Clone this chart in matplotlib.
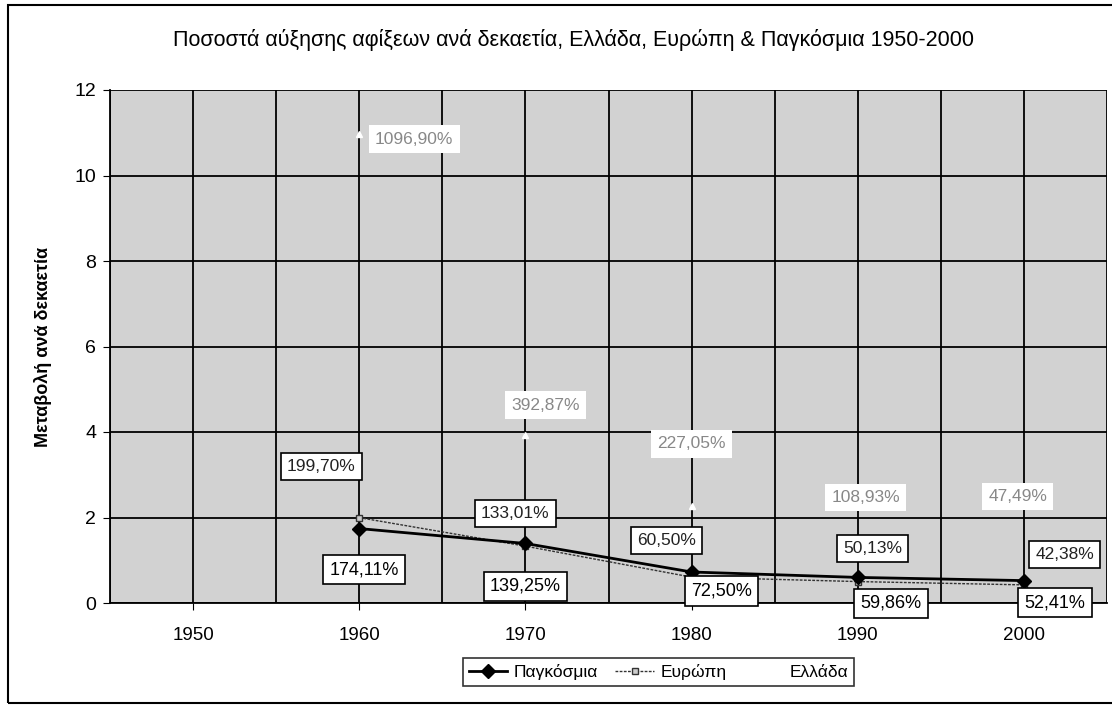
import matplotlib
matplotlib.use("Agg")
from matplotlib import pyplot as plt
from matplotlib.patches import Rectangle

plt.rcParams['font.family'] = ['Liberation Sans', 'DejaVu Sans']

# data
years = [1960, 1970, 1980, 1990, 2000]
world = [1.7411, 1.3925, 0.7250, 0.5986, 0.5241]
europe = [1.9970, 1.3301, 0.6050, 0.5013, 0.4238]
greece = [10.9690, 3.9287, 2.2705, 1.0893, 0.4749]
world_labels = ["174,11%", "139,25%", "72,50%", "59,86%", "52,41%"]
europe_labels = ["199,70%", "133,01%", "60,50%", "50,13%", "42,38%"]
greece_labels = ["1096,90%", "392,87%", "227,05%", "108,93%", "47,49%"]
x_ticks = [1950, 1960, 1970, 1980, 1990, 2000]
y_ticks = [0, 2, 4, 6, 8, 10, 12]

# label offsets in pixels (x, y)
world_off = [(5, -41), (0, -43), (30, -19), (33, -26), (31, -22)]
europe_off = [(-38, 51), (-10, 33), (-25, 37), (15, 33), (41, 30)]
greece_off = [(55, -5), (20, 30), (0, 62), (8, 59), (-6, 86)]

fig = plt.figure(figsize=(11.12, 7.11), dpi=100)
ax = fig.add_axes([110 / 1112, 1 - 603 / 711, 997 / 1112, 513 / 711])
ax.set_facecolor('#d2d2d2')

# greek series is drawn white in the original, so it hardly shows
ax.plot(years, greece, color='white', lw=0, marker='^', ms=5,
        mfc='white', mec='white', label='Ελλάδα', zorder=3)
ax.plot(years, europe, color='#333333', lw=1, ls=(0, (2, 1)), marker='s', ms=5,
        mfc='#cccccc', mec='#333333', label='Ευρώπη', zorder=4)
ax.plot(years, world, color='black', lw=2, marker='D', ms=7,
        mfc='black', mec='black', label='Παγκόσμια', zorder=5)

box_dark = dict(boxstyle='square,pad=0.35', fc='white', ec='black', lw=1.2)
box_light = dict(boxstyle='square,pad=0.35', fc='white', ec='none')

for x, y, t, o in zip(years, world, world_labels, world_off):
    ax.annotate(t, (x, y), xytext=o, textcoords='offset pixels', ha='center', va='center',
                fontsize=13, bbox=box_dark, zorder=6)
for x, y, t, o in zip(years, europe, europe_labels, europe_off):
    ax.annotate(t, (x, y), xytext=o, textcoords='offset pixels', ha='center', va='center',
                fontsize=12.5, color='#222222', bbox=box_dark, zorder=6)
for x, y, t, o in zip(years, greece, greece_labels, greece_off):
    ax.annotate(t, (x, y), xytext=o, textcoords='offset pixels', ha='center', va='center',
                fontsize=12.5, color='#888888', bbox=box_light, zorder=6)

ax.set_xlim(1945, 2005)
ax.set_ylim(0, 12)
ax.set_xticks(x_ticks)
ax.set_xticks(range(1945, 2006, 5), minor=True)
ax.set_yticks(y_ticks)
ax.grid(True, which='both', color='black', lw=1.3)
ax.set_axisbelow(True)
ax.tick_params(axis='x', which='major', labelsize=13.5, length=5, pad=12, direction='out')
ax.tick_params(axis='x', which='minor', length=0)
ax.tick_params(axis='y', labelsize=14, length=5, pad=5)
for s in ax.spines.values():
    s.set_linewidth(1.3)
ax.spines['top'].set_visible(False)
ax.spines['right'].set_visible(False)

ax.set_ylabel('Μεταβολή ανά δεκαετία', fontsize=13, fontweight='bold', labelpad=16)
fig.text(0.516, 1 - 40 / 711, 'Ποσοστά αύξησης αφίξεων ανά δεκαετία, Ελλάδα, Ευρώπη & Παγκόσμια 1950-2000',
         ha='center', va='center', fontsize=15.5)

handles, labels = ax.get_legend_handles_labels()
leg = fig.legend(handles[::-1], labels[::-1], loc='center', bbox_to_anchor=(0.592, 0.055),
                 ncol=3, fontsize=12.5, frameon=True, fancybox=False, edgecolor='black',
                 handlelength=2.2, columnspacing=1.0, handletextpad=0.4, borderpad=0.35)
leg.get_frame().set_linewidth(1.2)

fig.patches.append(Rectangle((8 / 1112, 1 - 703 / 711), 1110 / 1112, 698 / 711,
                             transform=fig.transFigure, fill=False, ec='black', lw=1.5))

fig.savefig('out.png', dpi=100)
